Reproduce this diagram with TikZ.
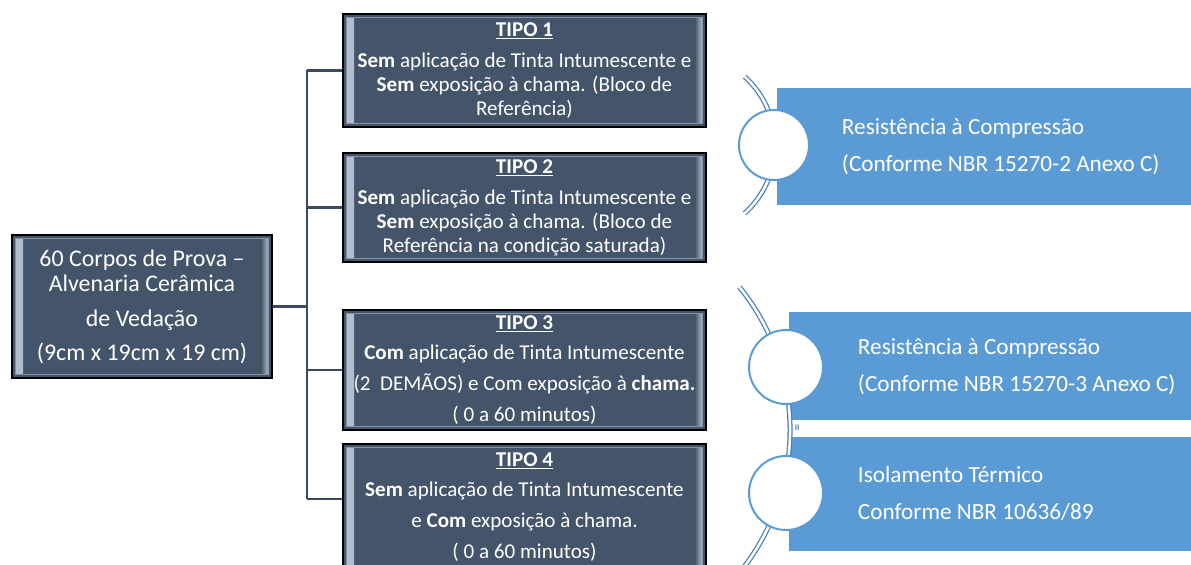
\documentclass[tikz,border=0pt]{standalone}
\usepackage{fontspec}
\setmainfont{Carlito}
\usetikzlibrary{positioning,calc}
\definecolor{slate}{HTML}{44546A}
\definecolor{bevelc}{HTML}{B4C0D0}
\definecolor{trunkc}{HTML}{3A4B60}
\definecolor{skyb}{HTML}{5B9BD5}
\definecolor{rimb}{HTML}{4A80B8}
\tikzset{
    sample/.style={rectangle,draw=black,line width=1.2pt,fill=slate,text=white,align=center,
        font=\fontsize{17}{18}\selectfont,
        path picture={
            \shade[left color=bevelc,right color=slate] ($(path picture bounding box.south west)+(2.5pt,2.5pt)$) rectangle ($(path picture bounding box.north west)+(8pt,-2.5pt)$);
            \shade[left color=slate,right color=bevelc] ($(path picture bounding box.south east)+(-8pt,2.5pt)$) rectangle ($(path picture bounding box.north east)+(-2.5pt,-2.5pt)$);
            \draw[bevelc!60!slate,line width=0.6pt] ($(path picture bounding box.south west)+(2.5pt,2.5pt)$) rectangle ($(path picture bounding box.north east)+(-2.5pt,-2.5pt)$);
        }},
    tipo/.style={sample,minimum width=9.075cm,font=\fontsize{15}{17}\selectfont},
    result/.style={rectangle,fill=skyb,anchor=north west,inner sep=0pt},
    rlabel/.style={text=white,align=left,anchor=west,font=\fontsize{16.5}{26.5}\selectfont},
    knob/.style={circle,draw=skyb,line width=1.4pt,fill=white,inner sep=0pt},
    bracket/.style={draw=rimb,double=white,double distance=1.8pt,line width=0.9pt},
    branch/.style={-,draw=trunkc,line width=1.5pt}
}

\begin{document}
\begin{tikzpicture}[x=0.025cm,y=-0.025cm]
    \useasboundingbox (0,0) rectangle (1191,565);
    \clip (0,0) rectangle (1191,565);

    % samples and the four types
    \node[sample,minimum width=6.5cm,minimum height=3.575cm] (sample) at (142,306.5)
        {60 Corpos de Prova –\\ Alvenaria Cerâmica\\[7pt] de Vedação\\[6pt] (9cm x 19cm x 19 cm)};

    \node[tipo,minimum height=2.825cm] (tipo 1) at (524.5,70.5)
        {\underline{\textbf{TIPO 1}}\\[5pt] \textbf{Sem} aplicação de Tinta Intumescente e\\ \textbf{Sem} exposição à chama. (Bloco de\\ Referência)};
    \node[tipo,minimum height=2.725cm] (tipo 2) at (524.5,207.5)
        {\underline{\textbf{TIPO 2}}\\[5pt] \textbf{Sem} aplicação de Tinta Intumescente e\\ \textbf{Sem} exposição à chama. (Bloco de\\ Referência na condição saturada)};
    \node[tipo,minimum height=3cm] (tipo 3) at (524.5,370)
        {\underline{\textbf{TIPO 3}}\\[5pt] \textbf{Com} aplicação de Tinta Intumescente\\[5pt] (2~~DEMÃOS) e Com exposição à \textbf{chama.}\\[5pt] ( 0 a 60 minutos)};
    \node[tipo,minimum height=3.15cm] (tipo 4) at (524.5,507)
        {\underline{\textbf{TIPO 4}}\\[5pt] \textbf{Sem} aplicação de Tinta Intumescente\\[5pt] e \textbf{Com} exposição à chama.\\[5pt] ( 0 a 60 minutos)};

    \coordinate (trunk) at (307,306.5);
    \coordinate (tipo 4 tap) at ([yshift=0.2cm]tipo 4.west);
    \draw[branch] (sample.east) -- (trunk);
    \draw[branch] (trunk |- tipo 1.west) -- (trunk |- tipo 4 tap);
    \draw[branch] (trunk |- tipo 1.west) -- (tipo 1.west);
    \draw[branch] (trunk |- tipo 2.west) -- (tipo 2.west);
    \draw[branch] (trunk |- tipo 3.west) -- (tipo 3.west);
    \draw[branch] (trunk |- tipo 4 tap) -- (tipo 4 tap);

    % results
    \node[result,minimum width=10.575cm,minimum height=2.925cm] (res 1) at (777,88) {};
    \node[result,minimum width=10.275cm,minimum height=2.7cm] (res 2) at (789,312) {};
    \node[result,minimum width=10.275cm,minimum height=2.85cm] (res 3) at (789,437) {};

    \node[rlabel] (res 1 text) at ([xshift=1.5cm]res 1.west)
        {Resistência à Compressão\\ (Conforme NBR 15270-2 Anexo C)};
    \node[rlabel] (res 2 text) at ([xshift=1.6cm]res 2.west)
        {Resistência à Compressão\\ (Conforme NBR 15270-3 Anexo C)};
    \node[rlabel] (res 3 text) at ([xshift=1.6cm,yshift=0.0125cm]res 3.west)
        {Isolamento Térmico\\ Conforme NBR 10636/89};

    \node[text=rimb,font=\fontsize{6}{6}\selectfont\bfseries,inner sep=0pt] (gap mark) at (797,428) {II};

    \draw[bracket] (683,145) ++(48:2.3cm) arc[start angle=48,end angle=-48,radius=2.3cm];
    \draw[bracket] (563,430) ++(39:5.675cm) arc[start angle=39,end angle=-39,radius=5.675cm];

    \node[knob,minimum size=1.75cm] (knob 1) at (774,145) {};
    \node[knob,minimum size=1.85cm] (knob 2) at (786,367) {};
    \node[knob,minimum size=1.85cm] (knob 3) at (786,493) {};
\end{tikzpicture}
\end{document}
